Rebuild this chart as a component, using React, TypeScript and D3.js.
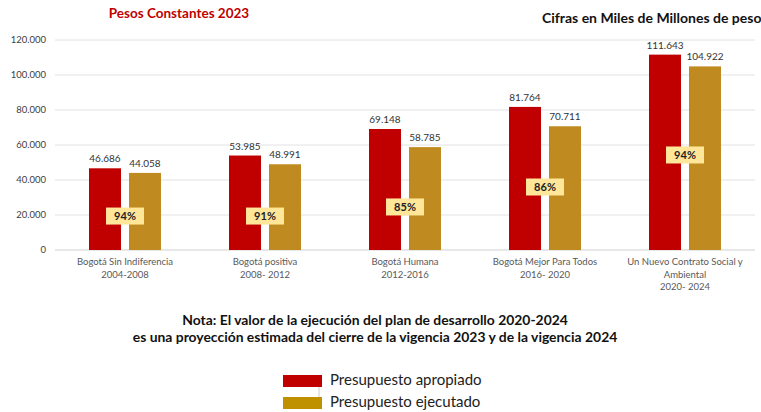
import React from "react";
import * as d3 from "d3";

const categories: string[][] = [
  ["Bogotá Sin Indiferencia", "2004-2008"],
  ["Bogotá positiva", "2008- 2012"],
  ["Bogotá Humana", "2012-2016"],
  ["Bogotá Mejor Para Todos", "2016- 2020"],
  ["Un Nuevo Contrato Social y", "Ambiental", "2020- 2024"],
];
const apropiado = [46686, 53985, 69148, 81764, 111643];
const ejecutado = [44058, 48991, 58785, 70711, 104922];
// anchor (in data units) where each percentage box sits
const pctAnchor = [19400, 19400, 24600, 36000, 54300];
const yTicks = [0, 20000, 40000, 60000, 80000, 100000, 120000];
const seriesNames = ["Presupuesto apropiado", "Presupuesto ejecutado"];

const RED = "#C00000";
const GOLD = "#BF8A1F";
const LEG_GOLD = "#BF9000";
const FONT = "Lato, 'Open Sans', sans-serif";

const fmt = (v: number) => d3.format(",")(v).replace(/,/g, ".");

export default function App() {
  const W = 761, H = 412;
  const x0 = d3.scaleBand<number>().domain(d3.range(categories.length)).range([55, 755]).paddingInner(0).paddingOuter(0);
  const x1 = d3.scaleBand<number>().domain([0, 1]).range([0, 72]).paddingInner(0.2);
  const y = d3.scaleLinear().domain([0, 120000]).range([250, 40]);
  const off = (x0.bandwidth() - 72) / 2;

  return (
    <svg width={W} height={H} style={{ position: "absolute", left: 0, top: 0, background: "#fff" }} fontFamily={FONT}>
      <rect width={W} height={H} fill="#fff" />
      <text x={179} y={18} textAnchor="middle" fontSize={13.5} fontWeight="bold" fill={RED}>Pesos Constantes 2023</text>
      <text x={542} y={23} fontSize={14} fontWeight="bold" fill="#111">Cifras en Miles de Millones de pesos</text>
      {yTicks.map((t) => (
        <g key={t}>
          <line x1={55} x2={755} y1={y(t)} y2={y(t)} stroke={t === 0 ? "#d0d0d0" : "#e2e2e2"} strokeWidth={1} />
          <text x={46} y={y(t)} dy="0.35em" textAnchor="end" fontSize={9.5} fill="#404040">{fmt(t)}</text>
        </g>
      ))}
      {categories.map((c, i) => {
        const gx = (x0(i) as number) + off;
        const vals = [apropiado[i], ejecutado[i]];
        const cx = (x0(i) as number) + x0.bandwidth() / 2;
        const pct = Math.round((ejecutado[i] / apropiado[i]) * 100);
        const py = y(pctAnchor[i]);
        return (
          <g key={i}>
            {vals.map((v, s) => {
              const bx = gx + (x1(s) as number);
              return (
                <g key={s}>
                  <rect x={bx} y={y(v)} width={x1.bandwidth()} height={y(0) - y(v)} fill={s === 0 ? RED : GOLD} />
                  <text x={bx + x1.bandwidth() / 2} y={y(v) - 6} textAnchor="middle" fontSize={10} fill="#333">{fmt(v)}</text>
                </g>
              );
            })}
            <rect x={cx - 19} y={py - 8.5} width={38} height={17} fill="#FFE699" />
            <text x={cx} y={py} dy="0.36em" textAnchor="middle" fontSize={11} fontWeight="bold" fill="#222">{pct}%</text>
            {c.map((line, k) => (
              <text key={k} x={cx} y={265 + k * 12.5} textAnchor="middle" fontSize={9.5} fill="#595959">{line}</text>
            ))}
          </g>
        );
      })}
      <text x={375} y={325} textAnchor="middle" fontSize={13.9} fontWeight="bold" fill="#111">Nota: El valor de la ejecución del plan de desarrollo 2020-2024</text>
      <text x={375} y={342} textAnchor="middle" fontSize={13.9} fontWeight="bold" fill="#111">es una proyección estimada del cierre de la vigencia 2023 y de la vigencia 2024</text>
      <line x1={319} x2={319} y1={387} y2={397} stroke="#ccc" strokeWidth={1} />
      {seriesNames.map((n, i) => (
        <g key={n}>
          <rect x={283} y={375 + i * 22} width={39} height={12} fill={i === 0 ? RED : LEG_GOLD} />
          <text x={330} y={385 + i * 22} fontSize={15} fill="#222">{n}</text>
        </g>
      ))}
    </svg>
  );
}
